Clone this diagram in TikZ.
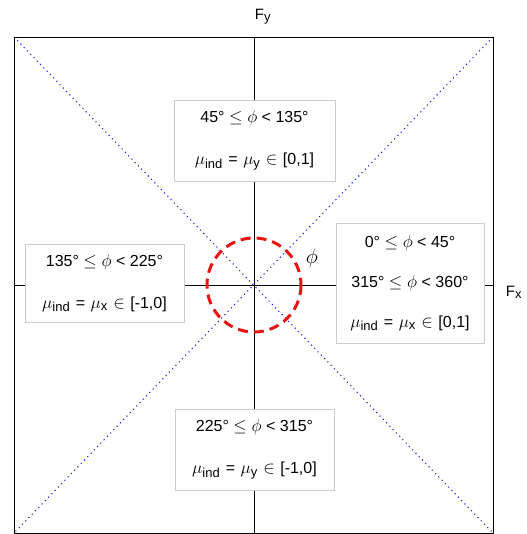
\documentclass[tikz,border=0pt]{standalone}
\usepackage{amsmath}
\usepackage{fontspec}
\setmainfont{Liberation Sans}
\usetikzlibrary{positioning}
\definecolor{boxgray}{RGB}{205,205,205}
\definecolor{diagblue}{RGB}{30,30,235}
\definecolor{circred}{RGB}{232,20,20}
\newcommand{\mysub}[1]{_{\mbox{\fontsize{13}{15}\selectfont #1}}}
\newcommand{\musp}{\hspace{5.5pt}}
\newcommand{\muline}[2]{$\mu\mysub{ind}$\musp=\musp$\mu\mysub{#1}$\musp$\in$\musp#2}

\begin{document}
\begin{tikzpicture}[x=1pt, y=-1pt,
  regionbox/.style={draw=boxgray, fill=white, line width=0.9pt, align=center,
                    inner sep=0pt, font=\fontsize{16}{19}\selectfont},
  axisline/.style={black, line width=0.9pt},
  diagline/.style={diagblue, line width=1.1pt, dash pattern=on 1.1pt off 3.6pt},
  axislabel/.style={font=\fontsize{15}{18}\selectfont}]
  \useasboundingbox (0,0) rectangle (526,534);
  \coordinate (tl) at (14,37);
  \coordinate (tr) at (493,37);
  \coordinate (bl) at (14,533);
  \coordinate (br) at (493,533);
  \coordinate (O) at (254,285);
  \coordinate (xl) at (14,285);
  \coordinate (xr) at (493,285);
  \coordinate (yt) at (254,37);
  \coordinate (yb) at (254,533);
  \draw[diagline] (tl) -- (br);
  \draw[diagline] (tr) -- (bl);
  \draw[axisline] (xl) -- (xr);
  \draw[axisline] (yt) -- (yb);
  \draw[axisline] (tl) rectangle (br);
  \node[axislabel] (Fy) at (263,17) {F$\mysub{y}$};
  \node[axislabel] (Fx) at (514,292) {F$\mysub{x}$};
  \node[regionbox, minimum width=161pt, minimum height=81pt] (upper) at (254.5,140.5)
    {45° $\leq \phi$ < 135°\\[23pt] \muline{y}{[0,1]}};
  \node[regionbox, minimum width=148pt, minimum height=120pt] (right) at (410,283)
    {0° $\leq \phi$ < 45°\\[21pt] 315° $\leq \phi$ < 360°\\[21pt] \muline{x}{[0,1]}};
  \node[regionbox, minimum width=159pt, minimum height=78pt] (left) at (104.5,283)
    {135° $\leq \phi$ < 225°\\[23pt] \muline{x}{[-1,0]}};
  \node[regionbox, minimum width=159pt, minimum height=81pt] (lower) at (254.5,449.5)
    {225° $\leq \phi$ < 315°\\[23pt] \muline{y}{[-1,0]}};
  \draw[circred, line width=3pt, dash pattern=on 10pt off 6pt] (O) circle (47);
  \node[font=\fontsize{20}{22}\selectfont] (phi) at (312,258) {$\phi$};
\end{tikzpicture}
\end{document}
